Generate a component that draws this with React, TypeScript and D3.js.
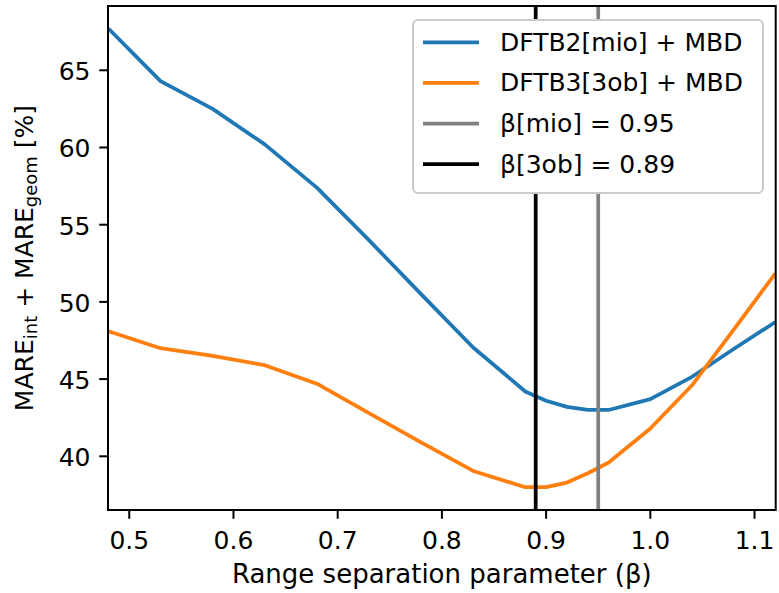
import React from "react";
import * as d3 from "d3";

const betas = [0.48, 0.53, 0.58, 0.63, 0.68, 0.73, 0.78, 0.83, 0.88, 0.9, 0.92, 0.94, 0.96, 1.0, 1.04, 1.08, 1.12];
const mioValues = [67.7, 64.3, 62.5, 60.2, 57.4, 54.0, 50.5, 47.05, 44.2, 43.6, 43.2, 43.0, 43.0, 43.7, 45.15, 46.95, 48.7];
const obValues = [48.1, 47.0, 46.5, 45.9, 44.7, 42.8, 40.9, 39.05, 38.0, 38.0, 38.3, 38.9, 39.6, 41.8, 44.6, 48.2, 51.85];
const betaMio = 0.95;
const betaOb = 0.89;
const xTicks = [0.5, 0.6, 0.7, 0.8, 0.9, 1.0, 1.1];
const yTicks = [40, 45, 50, 55, 60, 65];
const legendLabels = ["DFTB2[mio] + MBD", "DFTB3[3ob] + MBD", "β[mio] = 0.95", "β[3ob] = 0.89"];
const legendColors = ["#1f77b4", "#ff7f0e", "#808080", "#000000"];

const W = 779;
const H = 593;
const left = 108;
const right = 775.7;
const top = 6;
const bottom = 510;
const FONT = "DejaVu Sans";
const FS = 25;

export default function App() {
  const x = d3.scaleLinear().domain([0.4796, 1.1203]).range([left, right]);
  const y = d3.scaleLinear().domain([36.522, 69.164]).range([bottom, top]);
  const line = d3
    .line<number>()
    .x((_, i) => x(betas[i]))
    .y((d) => y(d));

  return (
    <svg
      width={W}
      height={H}
      style={{ position: "absolute", left: 0, top: 0 }}
      fontFamily={FONT}
    >
      <defs>
        <clipPath id="plotclip">
          <rect x={left} y={top} width={right - left} height={bottom - top} />
        </clipPath>
      </defs>
      <rect x={0} y={0} width={W} height={H} fill="white" />
      <g clipPath="url(#plotclip)">
        <path d={line(mioValues) || ""} fill="none" stroke="#1f77b4" strokeWidth={3.75} strokeLinejoin="round" />
        <path d={line(obValues) || ""} fill="none" stroke="#ff7f0e" strokeWidth={3.75} strokeLinejoin="round" />
        <line x1={x(betaMio)} x2={x(betaMio)} y1={top} y2={bottom} stroke="#808080" strokeWidth={3.75} />
        <line x1={x(betaOb)} x2={x(betaOb)} y1={top} y2={bottom} stroke="#000000" strokeWidth={3.75} />
      </g>
      {/* spines */}
      <rect x={left} y={top} width={right - left} height={bottom - top} fill="none" stroke="black" strokeWidth={2} />
      {/* x ticks */}
      {xTicks.map((t) => (
        <g key={"x" + t}>
          <line x1={x(t)} x2={x(t)} y1={bottom} y2={bottom + 8.75} stroke="black" strokeWidth={2} />
          <text x={x(t)} y={548.5} textAnchor="middle" fontSize={FS}>
            {t.toFixed(1)}
          </text>
        </g>
      ))}
      {/* y ticks */}
      {yTicks.map((t) => (
        <g key={"y" + t}>
          <line x1={left - 8.75} x2={left} y1={y(t)} y2={y(t)} stroke="black" strokeWidth={2} />
          <text x={90.5} y={y(t) + 10} textAnchor="end" fontSize={FS}>
            {t}
          </text>
        </g>
      ))}
      {/* x label */}
      <text x={441.8} y={583} textAnchor="middle" fontSize={26}>
        Range separation parameter (β)
      </text>
      {/* y label */}
      <text transform={`translate(33,${(top + bottom) / 2}) rotate(-90)`} textAnchor="middle" fontSize={FS}>
        MARE
        <tspan fontSize={18} dy={4}>int</tspan>
        <tspan dy={-4}> + MARE</tspan>
        <tspan fontSize={18} dy={4}>geom</tspan>
        <tspan dy={-4}> [%]</tspan>
      </text>
      {/* legend */}
      <g>
        <rect x={413} y={20} width={350} height={173} rx={5} ry={5} fill="white" stroke="#cccccc" strokeWidth={2} />
        {legendLabels.map((lab, i) => {
          const cy = 42.3 + i * 40.6;
          return (
            <g key={lab}>
              <line x1={423} x2={479} y1={cy} y2={cy} stroke={legendColors[i]} strokeWidth={3.75} />
              <text x={500} y={cy + 8.5} fontSize={FS}>
                {lab}
              </text>
            </g>
          );
        })}
      </g>
    </svg>
  );
}
